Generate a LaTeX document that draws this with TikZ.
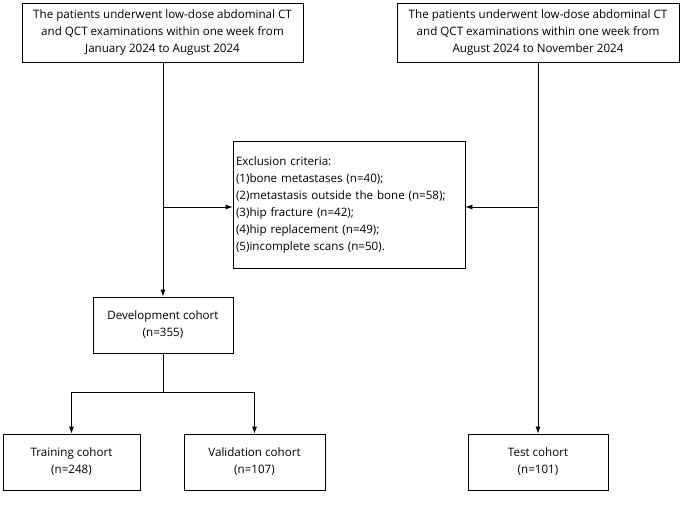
\documentclass[tikz,border=0pt]{standalone}
\usepackage{fontspec}
\setmainfont{Open Sans}
\usetikzlibrary{arrows.meta}
\begin{document}
\begin{tikzpicture}[x=1pt,y=-1pt,
  box/.style={draw,line width=0.8pt,align=center,inner sep=0pt,font=\fontsize{11.6}{17}\selectfont},
  ln/.style={line width=0.8pt},
  ar/.style={ln,-{Latex[length=7pt,width=5pt]}}]
\useasboundingbox (0,0) rectangle (685,512);
\node[box,minimum width=281,minimum height=59] (tl) at (162.5,32.5) {The patients underwent low-dose abdominal CT\\and QCT examinations within one week from\\January 2024 to August 2024};
\node[box,minimum width=282,minimum height=59] (tr) at (538,32.5) {The patients underwent low-dose abdominal CT\\and QCT examinations within one week from\\August 2024 to November 2024};
\node[box,minimum width=232,minimum height=127,align=left,text width=226] (ex) at (349,204.5) {Exclusion criteria:\\(1)bone metastases (n=40);\\(2)metastasis outside the bone (n=58);\\(3)hip fracture (n=42);\\(4)hip replacement (n=49);\\(5)incomplete scans (n=50).};
\node[box,minimum width=140,minimum height=56] (dev) at (163,325) {Development cohort\\(n=355)};
\node[box,minimum width=137,minimum height=56] (tra) at (71.5,462) {Training cohort\\(n=248)};
\node[box,minimum width=141,minimum height=56] (val) at (254.5,462) {Validation cohort\\(n=107)};
\node[box,minimum width=140,minimum height=56] (tes) at (538,462) {Test cohort\\(n=101)};
\coordinate (jl) at (163,207);
\coordinate (jr) at (538,207);
\coordinate (jd) at (163,392);
\draw[ar] (tl.south -| jl) -- (dev.north);
\draw[ar] (jl) -- (jl -| ex.west);
\draw[ar] (tr.south) -- (tes.north);
\draw[ar] (jr) -- (jr -| ex.east);
\draw[ln] (dev.south) -- (jd);
\draw[ar] (jd) -| (tra.north);
\draw[ar] (jd) -| (val.north);
\end{tikzpicture}
\end{document}
